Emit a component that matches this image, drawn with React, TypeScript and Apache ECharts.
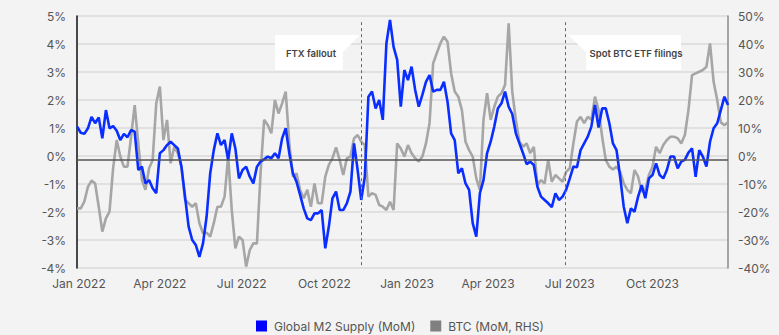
import React, { useEffect, useRef } from "react";
import * as echarts from "echarts";

// Global M2 supply, month-on-month % (left axis), one reading every 4 days from 30 Dec 2021
const m2Supply = [
  1.05, 0.83, 0.79, 0.99, 1.4, 1.17, 1.38, 0.63, 1.64, 0.99,
  1.07, 0.9, 0.57, 0.79, 0.67, 0.93, 0.87, -0.5, -0.38, -0.98,
  -0.86, -1.15, -1.33, 0.1, 0.21, 0.39, 0.51, 0.39, 0.27, -0.38,
  -1.45, -2.52, -3.0, -3.18, -3.6, -3.12, -2.17, -0.62, 0.21, 0.81,
  0.39, 0.57, -0.14, 0.81, 0.27, -0.8, -0.5, -0.38, -0.74, -0.98,
  -0.38, -0.2, -0.12, -0.02, -0.08, 0.1, -0.08, 0.63, 0.99, 0.1,
  -0.62, -0.92, -1.39, -1.87, -2.23, -2.29, -2.05, -2.05, -1.93, -3.3,
  -2.52, -1.51, -1.27, -1.93, -1.93, -1.69, -1.27, 0.45, -0.5, -1.57,
  -0.74, 2.12, 2.3, 1.7, 2.0, 1.29, 4.02, 4.86, 3.9, 3.43,
  1.76, 3.07, 2.71, 3.19, 2.36, 1.76, 2.18, 2.65, 2.89, 2.3,
  2.36, 2.36, 2.65, 1.94, 0.81, 0.57, -0.62, -0.44, -0.98, -1.21,
  -2.4, -2.88, -1.33, -0.86, 0.1, 0.51, 1.05, 1.7, 1.88, 2.3,
  1.76, 1.5, 0.81, 0.45, 0.1, -0.29, -0.2, -0.32, -1.1, -1.45,
  -1.57, -1.69, -1.83, -1.33, -1.57, -1.45, -1.2, -0.8, -0.38, -0.4,
  0.21, 0.45, 0.69, 1.05, 1.82, 1.02, 1.7, 1.7, 1.17, 0.45,
  0.21, -0.74, -1.81, -2.4, -1.87, -1.99, -1.45, -1.04, -1.51, -0.8,
  -0.68, -0.26, -0.68, -0.8, -0.5, -0.02, -0.02, -0.44, -0.2, -0.14,
  0.12, 0.27, -0.74, 0.21, -0.02, -0.38, 0.51, 0.99, 1.17, 1.64,
  2.12, 1.82,
];

// BTC month-on-month % (right axis), same dates
const btcMoM = [
  -18.7, -18.7, -16.3, -11.0, -8.8, -9.8, -18.1, -27.0, -22.3, -19.9,
  -4.4, 5.7, -0.2, -3.8, -3.8, 6.9, 18.2, 4.5, -8.6, -12.1,
  -4.4, -1.4, 18.8, 24.8, 5.7, 12.9, -2.6, 3.3, 1.0, -3.8,
  -15.7, -16.9, -18.1, -16.9, -24.0, -27.6, -27.4, -28.8, -24.0, -18.1,
  -18.1, -14.5, -0.2, -19.3, -33.0, -28.8, -30.0, -39.5, -33.6, -31.2,
  -31.2, -6.2, 12.9, 11.1, 8.1, 20.0, 15.2, 18.8, 23.0, 4.5,
  -7.4, -6.2, -12.1, -15.1, -12.1, -18.1, -9.8, -16.9, -16.9, -7.4,
  -3.2, -0.8, 3.1, -1.4, -6.8, -0.8, -0.2, 6.3, 7.5, 5.1,
  3.9, -14.5, -13.3, -13.9, -17.5, -18.1, -19.3, -16.3, -19.3, 4.5,
  2.7, -0.2, 3.9, 1.0, -0.8, -2.0, -0.2, 4.5, 11.7, 33.1,
  36.7, 40.2, 42.6, 40.8, 29.5, 23.0, 21.2, 16.4, 5.1, 2.1,
  -0.2, -8.0, -12.1, 12.9, 22.4, 12.9, 17.6, 21.2, 22.4, 25.4,
  47.4, 23.0, 12.9, 5.1, 3.3, 4.5, 1.0, 3.3, -10.4, -8.6,
  -9.8, -1.4, -9.2, -6.8, -8.0, -9.2, -5.6, -4.4, 4.5, 12.3,
  14.0, 11.7, 14.0, 12.9, 21.2, 16.4, 6.9, -1.4, -3.8, -4.8,
  -3.8, -5.6, -9.8, -12.1, -13.3, -5.0, -7.4, -12.7, -12.1, -6.8,
  -3.8, 3.3, 1.0, 3.9, 5.7, 6.9, 6.9, 6.3, 4.5, 7.5,
  16.4, 28.9, 29.5, 30.1, 30.7, 31.9, 40.2, 26.5, 20.0, 12.0,
  11.0, 12.0,
];

const seriesStart = Date.UTC(2021, 11, 30);
const stepDays = 4;

const tickDates = [
  Date.UTC(2022, 0, 1), Date.UTC(2022, 3, 1), Date.UTC(2022, 6, 1), Date.UTC(2022, 9, 1),
  Date.UTC(2023, 0, 1), Date.UTC(2023, 3, 1), Date.UTC(2023, 6, 1), Date.UTC(2023, 9, 1),
];
const tickLabels = [
  "Jan 2022", "Apr 2022", "Jul 2022", "Oct 2022",
  "Jan 2023", "Apr 2023", "Jul 2023", "Oct 2023",
];

const eventDates = [Date.UTC(2022, 10, 11), Date.UTC(2023, 5, 26)];
const eventLabels = ["FTX fallout", "Spot BTC ETF filings"];

const seriesNames = ["Global M2 Supply (MoM)", "BTC (MoM, RHS)"];

const FONT = "Inter, 'Open Sans', sans-serif";

export default function App() {
  const ref = useRef<HTMLDivElement>(null);

  useEffect(() => {
    document.body.style.margin = "0";
    document.body.style.background = "#f3f3f3";
    const chart = echarts.init(ref.current!, null, { renderer: "svg" });
    const day = 86400000;
    const xMin = Date.UTC(2021, 11, 29, 20);
    const xMax = Date.UTC(2023, 11, 24);
    const dates = m2Supply.map((_, i) => seriesStart + i * stepDays * day);
    const m2Data = m2Supply.map((v, i) => [dates[i], v]);
    const btcData = btcMoM.map((v, i) => [dates[i], v]);

    chart.setOption({
      animation: false,
      backgroundColor: "#f3f3f3",
      textStyle: { fontFamily: FONT },
      grid: { left: 77, right: 51, top: 16, bottom: 67, containLabel: false },
      legend: {
        left: 251,
        top: 315,
        itemWidth: 11,
        itemHeight: 11,
        itemGap: 15,
        icon: "rect",
        textStyle: { color: "#555", fontSize: 12, fontFamily: FONT, padding: [0, 0, 0, 2] },
        data: seriesNames,
      },
      xAxis: {
        type: "value",
        min: xMin,
        max: xMax,
        axisLine: { show: false },
        axisTick: { show: false },
        splitLine: { show: false },
        axisLabel: {
          customValues: tickDates,
          color: "#555",
          fontSize: 12,
          margin: 9,
          hideOverlap: false,
          formatter: (val: number) => {
            const k = tickDates.findIndex((t) => Math.abs(t - val) < day);
            return k >= 0 ? tickLabels[k] : "";
          },
        },
      },
      yAxis: [
        {
          type: "value",
          min: -4,
          max: 5,
          interval: 1,
          axisLine: { show: true, lineStyle: { color: "#111", width: 1.5 } },
          axisTick: { show: false },
          axisLabel: { color: "#555", fontSize: 12, margin: 11, formatter: "{value}%" },
          splitLine: { show: true, lineStyle: { color: "#dadada", width: 1.5 } },
        },
        {
          type: "value",
          min: -40,
          max: 50,
          interval: 10,
          position: "right",
          axisLine: { show: true, lineStyle: { color: "#8a8a8a", width: 1.5 } },
          axisTick: { show: false },
          axisLabel: { color: "#555", fontSize: 12, margin: 10, formatter: "{value}%" },
          splitLine: { show: false },
        },
      ],
      series: [
        {
          name: seriesNames[1],
          type: "line",
          yAxisIndex: 1,
          data: btcData,
          showSymbol: false,
          symbol: "none",
          itemStyle: { color: "#808080" },
          lineStyle: { color: "#a6a6a6", width: 2.6 },
          z: 2,
        },
        {
          name: seriesNames[0],
          type: "line",
          yAxisIndex: 0,
          data: m2Data,
          showSymbol: false,
          symbol: "none",
          itemStyle: { color: "#0000ff" },
          lineStyle: { color: "#0a2eff", width: 2.6 },
          z: 3,
          markLine: {
            silent: true,
            symbol: ["none", "none"],
            label: { show: false },
            data: [
              [
                { coord: [eventDates[0], 4.78], lineStyle: { color: "#666", type: [3, 3], width: 1 } },
                { coord: [eventDates[0], -4] },
              ],
              [
                { coord: [eventDates[1], 4.78], lineStyle: { color: "#666", type: [3, 3], width: 1 } },
                { coord: [eventDates[1], -4] },
              ],
              [
                { coord: [xMin, -0.12], lineStyle: { color: "#555", type: "solid", width: 1.5 } },
                { coord: [xMax, -0.12] },
              ],
            ],
          },
        },
      ],
      graphic: [
        {
          type: "polygon",
          shape: { points: [[275, 35], [360, 35], [343, 52], [343, 70], [275, 70]] },
          style: { fill: "#ffffff" },
          z: 10,
        },
        {
          type: "text",
          x: 311,
          y: 53,
          style: {
            text: eventLabels[0],
            fill: "#444",
            font: `600 9.5px ${FONT}`,
            align: "center",
            verticalAlign: "middle",
          },
          z: 11,
        },
        {
          type: "polygon",
          shape: { points: [[568, 35], [681, 35], [681, 70], [586, 70], [586, 52]] },
          style: { fill: "#ffffff" },
          z: 10,
        },
        {
          type: "text",
          x: 636,
          y: 53,
          style: {
            text: eventLabels[1],
            fill: "#444",
            font: `600 9.5px ${FONT}`,
            align: "center",
            verticalAlign: "middle",
          },
          z: 11,
        },
      ],
    });
    return () => chart.dispose();
  }, []);

  return (
    <div
      ref={ref}
      style={{ position: "absolute", left: 0, top: 0, width: 779, height: 335, background: "#f3f3f3" }}
    />
  );
}
